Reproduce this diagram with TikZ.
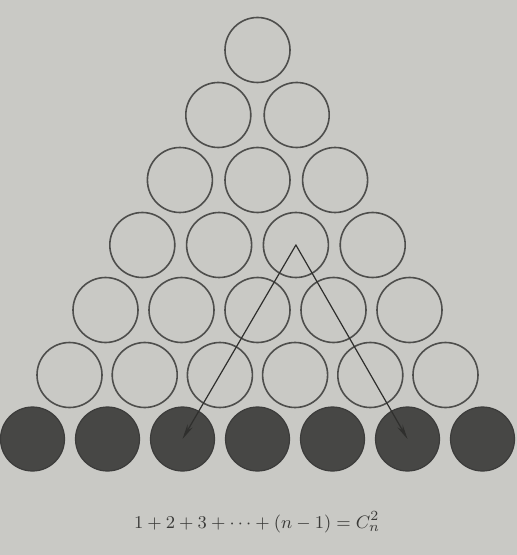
\documentclass[tikz,border=0pt]{standalone}
\usepackage{amsmath}
\usepackage{tikz}
\usetikzlibrary{arrows.meta}

\begin{document}
\begin{tikzpicture}[
    x=0.5pt, y=-0.5pt,
    >={Stealth[length=7.5pt,width=3pt]},
    every path/.style={line cap=round},
]
% ── Colours ──
\definecolor{paper}{HTML}{C9C9C5}
\definecolor{rim}{HTML}{4E4E4C}
\definecolor{ink}{HTML}{474745}
\definecolor{arrowc}{HTML}{2F2F2D}
\definecolor{textc}{HTML}{3A3A38}

% ── Styles ──
\tikzset{
    openball/.style={
        circle, draw=rim, line width=0.8pt,
        minimum size=32.5pt, inner sep=0pt,
    },
    fullball/.style={
        circle, draw=ink!85!black, fill=ink, line width=0.6pt,
        minimum size=32pt, inner sep=0pt,
    },
    pairarrow/.style={->, draw=arrowc, line width=0.6pt},
}

% ── Page ──
\fill[paper] (0,0) rectangle (517,555);
\useasboundingbox (0,0) rectangle (517,555);

% ── Open circles, rows 1 to 6 ──
\foreach \r in {1,...,6}{
    \foreach \k in {1,...,\r}{
        \node[openball] (c-\r-\k) at ({257.5+(\k-(\r+1)/2)*(80-0.8*\r)}, {50+(\r-1)*65}) {};
    }
}

% ── Filled bottom row ──
\foreach \k in {1,...,7}{
    \node[fullball] (f-\k) at ({257.5+(\k-4)*75}, 439) {};
}

% ── One pair ──
\draw[pairarrow] (c-4-3.center) -- (f-3.center);
\draw[pairarrow] (c-4-3.center) -- (f-6.center);

% ── Formula ──
\node[text=textc, font=\fontsize{9.3}{11}\selectfont] (sum) at (257,522)
    {$1+2+3+\cdots+(n-1)=C_n^2$};

\end{tikzpicture}
\end{document}
